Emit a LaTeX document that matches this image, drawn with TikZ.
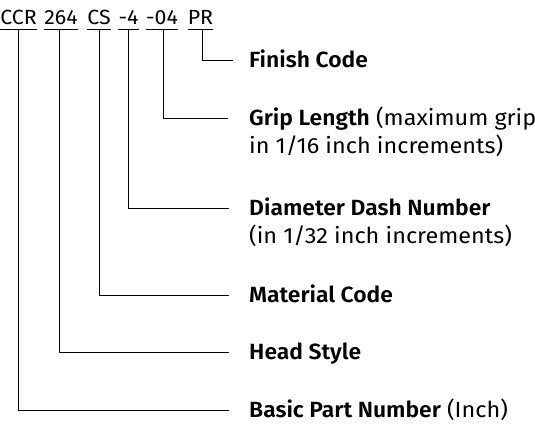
\documentclass[tikz,border=0pt]{standalone}
\usepackage{fontspec}
\setmainfont{Fira Sans}[BoldFont={Fira Sans SemiBold}]
\newfontfamily\lblfont{Fira Sans}[FakeStretch=1.065]
\newfontfamily\lblbold{Fira Sans SemiBold}[FakeStretch=1.04]
\newfontfamily\codefont{Fira Sans}[FakeStretch=1.04]
\newcommand\lbltitle[1]{{\lblbold #1}}
\begin{document}
\begin{tikzpicture}[x=1pt,y=1pt,
  code/.style={anchor=base,inner sep=0pt,font=\codefont\fontsize{20.5}{24}\selectfont},
  lbl/.style={anchor=base west,inner sep=0pt,align=left,font=\lblfont\fontsize{22}{28}\selectfont},
  ln/.style={line width=1pt}]
\useasboundingbox (0,0) rectangle (535,423);
% part number codes (baseline y=25 -> 398)
\node[code] (c1) at (18.5,398) {CCR};
\node[code] (c2) at (61,398) {264};
\node[code] (c3) at (99,398) {CS};
\node[code] (c4) at (128.5,398) {-4};
\node[code] (c5) at (162,398) {-04};
\node[code] (c6) at (200.5,398) {PR};
\foreach \n in {c1,c2,c3,c4,c5,c6}{
  \draw[ln] ([yshift=-4pt]\n.south west) -- ([yshift=-4pt]\n.south east);
}
% labels
\node[lbl] (l6) at (249,355) {\lbltitle{Finish Code}};
\node[lbl] (l5) at (249,269) {\lbltitle{Grip Length} (maximum grip\\in 1/16 inch increments)};
\node[lbl] (l4) at (249,179) {\lbltitle{Diameter Dash Number}\\(in 1/32 inch increments)};
\node[lbl] (l3) at (249,120) {\lbltitle{Material Code}};
\node[lbl] (l2) at (249,64) {\lbltitle{Head Style}};
\node[lbl] (l1) at (249,6) {\lbltitle{Basic Part Number} (Inch)};
% connector ends
\coordinate (e6) at (233,362);
\coordinate (e5) at (228,304);
\coordinate (e4) at (229,214);
\coordinate (e3) at (229,127);
\coordinate (e2) at (229,71);
\coordinate (e1) at (229,13);
% connectors
\draw[ln] ([xshift=1.5pt,yshift=-4pt]c6.south) |- (e6);
\draw[ln] ([xshift=1pt,yshift=-4pt]c5.south) |- (e5);
\draw[ln] ([yshift=-4pt]c4.south) |- (e4);
\draw[ln] ([yshift=-4pt]c3.south) |- (e3);
\draw[ln] ([xshift=-2pt,yshift=-4pt]c2.south) |- (e2);
\draw[ln] ([yshift=-4pt]c1.south) |- (e1);
\end{tikzpicture}
\end{document}
